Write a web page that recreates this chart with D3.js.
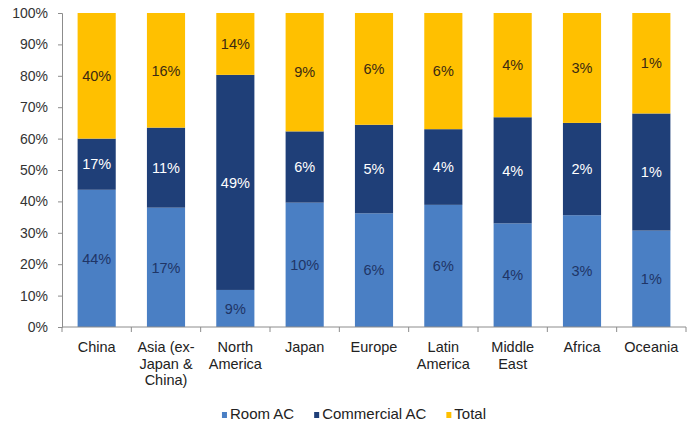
<!DOCTYPE html>
<html>
<head>
<meta charset="utf-8">
<script src="https://cdn.jsdelivr.net/npm/d3@7"></script>
<style>
  html, body { margin: 0; padding: 0; background: #ffffff; }
  svg { display: block; font-family: "Liberation Sans", Arial, sans-serif; }
</style>
</head>
<body>
<svg id="chart" width="696" height="430"></svg>
<script>
// Regions (x-axis categories, multi-line labels)
const regions = ["China", "Asia (ex-Japan & China)", "North America", "Japan", "Europe",
                 "Latin America", "Middle East", "Africa", "Oceania"];
const regionLines = [["China"], ["Asia (ex-", "Japan &", "China)"], ["North", "America"], ["Japan"],
                     ["Europe"], ["Latin", "America"], ["Middle", "East"], ["Africa"], ["Oceania"]];

// Share of each segment within a region's bar (percent, each row sums to 100)
const roomShare       = [43.7, 38.0, 11.8, 39.6, 36.2, 38.9, 33.0, 35.6, 30.7];
const commercialShare = [16.3, 25.5, 68.5, 22.7, 28.2, 24.1, 33.8, 29.4, 37.3];
const totalShare      = [40.0, 36.5, 19.7, 37.7, 35.6, 37.0, 33.2, 35.0, 32.0];

// Printed labels: each region's share of the global market
const roomLabels       = ["44%", "17%", "9%", "10%", "6%", "6%", "4%", "3%", "1%"];
const commercialLabels = ["17%", "11%", "49%", "6%", "5%", "4%", "4%", "2%", "1%"];
const totalLabels      = ["40%", "16%", "14%", "9%", "6%", "6%", "4%", "3%", "1%"];

// Series and y-axis ticks
const seriesNames = ["Room AC", "Commercial AC", "Total"];
const seriesColors = ["#4a7fc4", "#1f3f78", "#ffc000"];
const labelColors = ["#1f3566", "#ffffff", "#3b2a12"];
const yTicks = [0, 10, 20, 30, 40, 50, 60, 70, 80, 90, 100];

const svg = d3.select("#chart");
const margin = { left: 62, right: 10, top: 13, bottom: 103 };
const W = 696, H = 430;
const plotRight = W - margin.right;
const plotBottom = H - margin.bottom;

const x = d3.scaleBand().domain(regions).range([margin.left, plotRight]).paddingInner(0.45).paddingOuter(0.225);
const y = d3.scaleLinear().domain([0, 100]).range([plotBottom, margin.top]);

// Stack the three series
const rows = regions.map((r, i) => ({
  region: r,
  room: roomShare[i], commercial: commercialShare[i], total: totalShare[i],
  labels: [roomLabels[i], commercialLabels[i], totalLabels[i]]
}));
const keys = ["room", "commercial", "total"];
const stacked = d3.stack().keys(keys)(rows);

stacked.forEach((layer, si) => {
  const g = svg.append("g");
  g.selectAll("rect").data(layer).join("rect")
    .attr("x", d => x(d.data.region))
    .attr("width", x.bandwidth())
    .attr("y", d => y(d[1]))
    .attr("height", d => y(d[0]) - y(d[1]))
    .attr("fill", seriesColors[si]);
  g.selectAll("text").data(layer).join("text")
    .attr("x", d => x(d.data.region) + x.bandwidth() / 2)
    .attr("y", d => (y(d[0]) + y(d[1])) / 2)
    .attr("dy", "0.36em")
    .attr("text-anchor", "middle")
    .attr("font-size", 14.5)
    .attr("fill", labelColors[si])
    .text(d => d.data.labels[si]);
});

// Y axis
const yAxis = d3.axisLeft(y).tickValues(yTicks).tickFormat(d => d + "%").tickSize(4).tickPadding(10);
const yg = svg.append("g").attr("transform", `translate(${margin.left},0)`).call(yAxis);
yg.select(".domain").attr("stroke", "#8c8c8c");
yg.selectAll(".tick line").attr("stroke", "#8c8c8c");
yg.selectAll(".tick text").attr("font-size", 14).attr("fill", "#333333")
  .attr("font-family", "Liberation Sans, Arial, sans-serif");

// X axis: baseline with tick marks at category boundaries
const xg = svg.append("g");
xg.append("line").attr("x1", margin.left).attr("x2", plotRight)
  .attr("y1", plotBottom).attr("y2", plotBottom).attr("stroke", "#8c8c8c");
const step = x.step();
const bounds = d3.range(regions.length + 1).map(i => margin.left + i * step);
xg.selectAll("line.tk").data(bounds).join("line").attr("class", "tk")
  .attr("x1", d => d).attr("x2", d => d)
  .attr("y1", plotBottom).attr("y2", plotBottom + 5).attr("stroke", "#8c8c8c");

// Category labels
regions.forEach((r, i) => {
  const t = svg.append("text")
    .attr("x", x(r) + x.bandwidth() / 2)
    .attr("y", 352)
    .attr("text-anchor", "middle")
    .attr("font-size", 14.5)
    .attr("fill", "#222222");
  regionLines[i].forEach((line, li) => {
    t.append("tspan").attr("x", x(r) + x.bandwidth() / 2).attr("dy", li === 0 ? 0 : 16.5).text(line);
  });
});

// Legend, centred under the plot
const legend = svg.append("g").attr("transform", "translate(0,419)");
const items = [];
let lx = 0;
seriesNames.forEach((name, i) => {
  const m = legend.append("rect").attr("x", lx).attr("y", -7).attr("width", 5).attr("height", 6).attr("fill", seriesColors[i]);
  const t = legend.append("text").attr("x", lx + 8).attr("y", 0).attr("font-size", 15)
    .attr("fill", "#222222").text(name);
  lx += 8 + t.node().getComputedTextLength() + 20;
});
const legendWidth = lx - 20;
legend.attr("transform", `translate(${(margin.left + plotRight) / 2 - legendWidth / 2 - 20},419)`);
</script>
</body>
</html>
